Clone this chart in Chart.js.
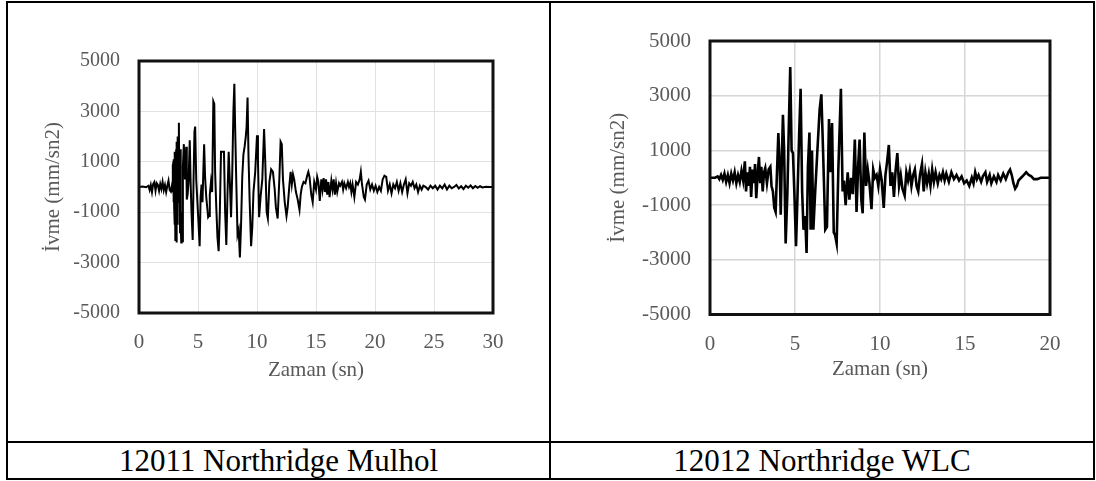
<!DOCTYPE html>
<html>
<head>
<meta charset="utf-8">
<script src="https://cdn.jsdelivr.net/npm/chart.js@4.4.1/dist/chart.umd.min.js"></script>
<style>
  html, body { margin: 0; padding: 0; background: #fff; }
  body { width: 1096px; height: 481px; position: relative; overflow: hidden; }
  .ln { position: absolute; background: #000; }
  .cap { position: absolute; top: 443px; height: 35px; line-height: 35px; text-align: center;
         font-family: "Liberation Serif", "Times New Roman", serif; font-size: 31px; color: #000; }
  canvas { position: absolute; top: 0; }
</style>
</head>
<body>
<canvas id="c1" width="549" height="440" style="left:0px;width:549px;height:440px"></canvas>
<canvas id="c2" width="545" height="440" style="left:551px;width:545px;height:440px"></canvas>

<div class="ln" style="left:6px;top:1px;width:1089px;height:2px"></div>
<div class="ln" style="left:6px;top:1px;width:2px;height:479px"></div>
<div class="ln" style="left:1093px;top:1px;width:2px;height:479px"></div>
<div class="ln" style="left:549px;top:1px;width:2px;height:479px"></div>
<div class="ln" style="left:6px;top:441px;width:1089px;height:2px"></div>
<div class="ln" style="left:6px;top:478px;width:1089px;height:2px"></div>

<div class="cap" id="cap1" style="left:8px;width:541px"></div>
<div class="cap" id="cap2" style="left:551px;width:542px"></div>

<script>
// ---------------- data ----------------
const captions = ["12011 Northridge Mulhol", "12012 Northridge WLC"];
const xTitle = "Zaman (sn)";
const yTitle = "İvme (mm/sn2)";
const yTicks = [-5000, -3000, -1000, 1000, 3000, 5000];
const xTicks1 = [0, 5, 10, 15, 20, 25, 30];
const xTicks2 = [0, 5, 10, 15, 20];

// 12011 Northridge Mulhol : time (s)
const t1 = [0,0.3,0.6,0.8,0.9,1.0,1.1,1.2,1.3,1.4,1.5,1.6,1.7,1.8,1.9,2.0,2.1,2.2,2.3,2.4,2.5,2.6,2.7,2.8,
 2.85,2.88,2.9,2.93,2.95,2.98,3.0,3.03,3.05,3.08,3.1,3.13,3.15,3.18,3.2,3.23,3.25,3.28,3.3,3.34,3.38,3.42,3.45,3.48,3.52,3.55,3.58,3.62,3.65,3.72,3.8,3.9,4.0,4.05,4.12,4.2,4.3,4.38,4.45,4.55,
 4.62,4.7,4.76,4.85,4.95,5.05,5.14,5.22,5.3,5.38,5.45,5.52,5.6,5.7,5.8,5.86,5.94,6.0,6.1,6.2,6.3,6.38,6.45,6.55,6.65,6.75,
 6.85,6.95,7.1,7.2,7.3,7.4,7.5,7.6,7.7,7.8,7.9,8.0,8.08,8.15,8.25,8.35,8.45,8.55,8.65,8.75,8.85,8.95,9.05,9.12,9.2,9.28,
 9.38,9.5,9.6,9.7,9.85,10.0,10.08,10.18,10.3,10.45,10.6,10.7,10.82,10.92,11.05,11.2,11.35,11.5,11.6,11.75,11.9,12.0,12.1,
 12.2,12.35,12.5,12.6,12.75,12.85,12.95,13.05,13.15,13.3,13.45,13.6,13.7,13.8,13.95,14.1,14.25,14.35,14.45,14.6,14.72,
 14.85,15.0,15.1,15.2,15.32,15.45,15.55,15.65,15.75,15.85,15.95,16.05,16.15,16.3,16.4,16.5,16.6,16.7,16.8,16.95,17.05,
 17.2,17.3,17.4,17.55,17.7,17.8,17.9,18.0,18.1,18.25,18.4,18.55,18.7,18.8,18.9,19.05,19.15,19.3,19.45,19.6,19.75,19.9,
 20.05,20.2,20.35,20.5,20.65,20.8,20.95,21.1,21.25,21.4,21.55,21.7,21.85,22.0,22.15,22.3,22.45,22.6,22.75,22.9,23.05,
 23.2,23.35,23.5,23.65,23.8,23.95,24.1,24.3,24.5,24.7,24.9,25.1,25.3,25.5,25.7,25.9,26.1,26.3,26.5,26.7,26.9,27.1,27.3,
 27.5,27.7,27.9,28.1,28.3,28.5,28.7,28.9,29.1,29.4,29.7,30];
// 12011 Northridge Mulhol : acceleration (mm/sn2)
const a1 = [0,20,-10,50,-120,80,-200,120,200,-150,150,80,-150,120,-80,200,-120,80,-200,50,250,-120,-180,80,
 900,-200,1000,-600,1100,-800,1400,-1500,600,-2100,1200,-1800,1500,-2200,1800,-1300,1600,-1500,2000,1000,2550,-600,600,-1800,1500,-1500,-2200,-1000,-2150,800,1700,300,1600,-500,-300,200,1850,100,-1000,-2100,
 200,2200,2400,300,-600,-1500,-2350,-400,100,-600,600,1700,400,-400,-900,-1200,-1150,-300,200,-200,3400,3300,600,-800,-2000,-2550,
 -1000,1400,1400,1400,-1000,-2300,-300,1400,200,-1200,500,3000,4100,2300,100,-1900,-1700,-2800,-1500,400,1300,1600,2000,2400,3550,1200,
 -600,-2350,-1600,-200,600,2050,1100,-1200,-400,300,2300,1000,-1000,-1250,200,700,600,-100,-800,-1250,400,1800,1700,
 300,-600,-1150,-800,100,600,100,500,300,-200,-500,-900,-300,0,200,150,450,600,400,-300,-600,
 200,-100,400,200,-550,300,-100,350,-200,300,-300,200,-400,250,-100,300,-300,150,-200,150,50,
 200,-100,150,-50,200,0,150,-200,100,-400,200,100,300,600,100,-400,-500,100,250,-100,100,-150,
 50,-200,0,-150,300,450,400,-150,100,-250,100,-50,200,-150,150,-200,100,300,-250,150,50,
 200,-50,100,-200,50,-100,50,0,-100,50,-50,50,-100,50,-50,100,-100,50,-50,0,80,-60,30,
 -80,50,-30,60,-50,40,-30,30,-20,10,0,0];

// 12012 Northridge WLC : time (s)
const t2 = [0,0.3,0.45,0.55,0.65,0.75,0.85,0.95,1.05,1.15,1.25,1.35,1.45,1.55,1.65,1.75,1.85,1.95,2.05,2.12,2.2,2.28,2.35,
 2.42,2.5,2.58,2.65,2.72,2.8,2.88,2.95,3.02,3.1,3.18,3.25,3.35,3.45,3.55,3.62,3.7,3.78,3.86,3.94,4.02,4.1,4.16,4.22,4.29,
 4.36,4.45,4.55,4.64,4.72,4.8,4.88,4.96,5.06,5.14,5.24,5.33,5.42,5.5,5.6,5.68,5.76,5.85,5.92,6.0,6.08,6.18,6.3,6.45,6.55,
 6.65,6.78,6.88,7.0,7.08,7.18,7.28,7.36,7.45,7.55,7.7,7.8,7.88,7.98,8.1,8.2,8.3,8.4,8.52,8.62,8.72,8.8,8.9,8.98,9.08,9.18,
 9.28,9.38,9.5,9.6,9.7,9.8,9.9,10.0,10.1,10.22,10.32,10.42,10.52,10.62,10.72,10.82,10.92,11.02,11.12,11.22,11.32,11.45,
 11.55,11.65,11.75,11.85,11.95,12.05,12.15,12.25,12.35,12.47,12.57,12.67,12.77,12.87,12.97,13.07,13.17,13.27,13.4,13.5,
 13.6,13.7,13.8,13.9,14.05,14.2,14.35,14.5,14.65,14.8,14.95,15.1,15.25,15.4,15.5,15.6,15.7,15.8,15.95,16.05,16.2,16.3,
 16.45,16.55,16.7,16.85,16.95,17.1,17.25,17.4,17.55,17.65,17.75,17.85,17.95,18.05,18.15,18.3,18.45,18.6,18.75,18.9,19.05,
 19.25,19.45,19.7,20];
// 12012 Northridge WLC : acceleration (mm/sn2)
const a2 = [0,0,50,-50,100,-80,150,-150,100,-200,150,-100,200,-200,100,-150,250,-100,600,-500,200,-300,400,
 -700,300,-200,500,-750,100,760,-200,400,-500,200,350,-200,300,400,-300,-500,-1100,-1250,200,1630,400,-1350,500,2300,
 1000,-2400,-600,2000,4050,1000,900,-500,-2500,-800,1500,3250,-500,-1900,-1400,-2750,400,1650,-1900,1000,-1900,-600,800,2500,3050,
 1000,-1900,-1800,2150,200,2000,-2000,-2100,-2400,300,3250,-500,-100,-1000,200,-800,0,-600,1400,-1250,500,1400,-800,-1300,1650,-300,
 300,-200,-1150,300,0,100,-300,300,-100,-1100,100,600,1200,-300,200,-700,300,900,-300,100,-400,-650,
 200,-100,250,-300,100,300,-300,-500,100,500,-500,200,-200,150,-300,300,-150,200,-200,100,
 -50,200,-100,150,-150,200,-50,100,-100,50,-200,-100,-300,0,-200,200,-50,100,-150,50,200,-150,
 100,-200,50,-150,100,-100,150,-50,200,300,100,-200,-400,-300,-100,0,100,200,100,50,-50,
 -50,0,0,0];

// ---------------- charts ----------------
const FONT = '"Liberation Serif", "Times New Roman", serif';
const GREY = '#595959';

const boxPlugin = {
  id: 'box',
  afterDraw(chart, args, opts) {
    const a = chart.chartArea, ctx = chart.ctx;
    ctx.save();
    ctx.strokeStyle = opts.color || '#111';
    ctx.lineWidth = opts.width || 3;
    ctx.strokeRect(a.left, a.top, a.right - a.left, a.bottom - a.top);
    ctx.restore();
  }
};

function makeChart(id, times, values, xTicks, cfg) {
  const pts = times.map((t, i) => ({ x: t, y: values[i] }));
  return new Chart(document.getElementById(id), {
    type: 'line',
    data: { datasets: [{ data: pts, borderColor: '#000', borderWidth: cfg.lineWidth,
      pointRadius: 0, tension: 0, fill: false }] },
    options: {
      responsive: false, animation: false,
      layout: { padding: { top: cfg.top, right: cfg.right, left: 0, bottom: 0 } },
      plugins: { legend: { display: false }, tooltip: { enabled: false }, box: { width: 3, color: '#111' } },
      scales: {
        x: {
          type: 'linear', min: xTicks[0], max: xTicks[xTicks.length - 1],
          afterBuildTicks: s => { s.ticks = xTicks.map(v => ({ value: v })); },
          afterFit: s => { s.height = cfg.xh; },
          grid: { color: cfg.grid, lineWidth: cfg.gridW, drawTicks: false },
          border: { display: false },
          ticks: { color: GREY, font: { family: FONT, size: 21 }, padding: cfg.xpad, maxRotation: 0,
                   callback: v => String(v) },
          title: { display: true, text: xTitle, color: GREY, font: { family: FONT, size: 21 },
                   padding: { top: 0, bottom: cfg.xtb } }
        },
        y: {
          type: 'linear', min: yTicks[0], max: yTicks[yTicks.length - 1],
          afterBuildTicks: s => { s.ticks = yTicks.map(v => ({ value: v })); },
          afterFit: s => { s.width = cfg.yw; },
          grid: { color: cfg.grid, lineWidth: cfg.gridW, drawTicks: false },
          border: { display: false },
          ticks: { color: GREY, font: { family: FONT, size: cfg.yfs }, padding: cfg.ypad,
                   callback: v => String(v) },
          title: { display: true, text: yTitle, color: GREY, font: { family: FONT, size: 21 },
                   padding: { top: cfg.ytp, bottom: 0 } }
        }
      }
    },
    plugins: [boxPlugin]
  });
}

document.getElementById('cap1').textContent = captions[0];
document.getElementById('cap2').textContent = captions[1];

makeChart('c1', t1, a1, xTicks1, {
  lineWidth: 2, top: 61, right: 56, xh: 127, yw: 139, xpad: 17, xtb: 57, ytp: 41,
  ypad: 19, yfs: 20, grid: '#e2e2e2', gridW: 1
});
makeChart('c2', t2, a2, xTicks2, {
  lineWidth: 2.6, top: 41, right: 46, xh: 125.5, yw: 159, xpad: 17, xtb: 58, ytp: 55,
  ypad: 19, yfs: 21, grid: '#d6d6d6', gridW: 1.5
});
</script>
</body>
</html>
